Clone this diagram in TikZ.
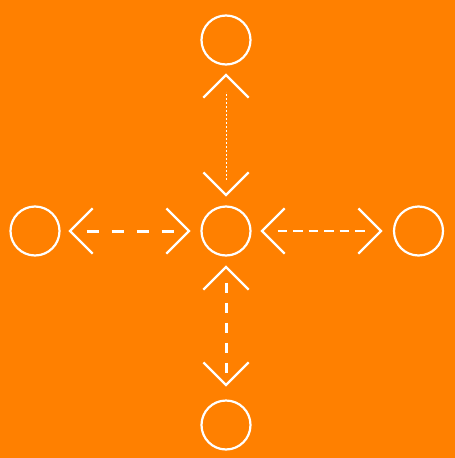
\documentclass[tikz,border=0pt]{standalone}
\usetikzlibrary{calc}
\definecolor{bg}{RGB}{255,128,0}
\tikzset{
  ring/.style={circle,draw=white,line width=2.2pt,minimum size=49pt,inner sep=0pt,outer sep=0pt},
  chev/.style={draw=white,line width=2.2pt},
  link/.style={draw=white,shorten <=27pt,shorten >=27pt},
  dotlink/.style={link,line width=1pt,dash pattern=on 2pt off 2pt},
  thicklink/.style={link,line width=3pt,dash pattern=on 12pt off 13pt},
  thinlink/.style={link,line width=2pt,dash pattern=on 9.5pt off 6pt},
  midlink/.style={link,line width=3pt,dash pattern=on 10pt off 10pt}
}
\newcommand\mychev[2]{% tip coordinate #1, arms opening towards node #2
  \draw[chev] ($(#1)!32pt!45:(#2)$) -- (#1) -- ($(#1)!32pt!-45:(#2)$);}
\begin{document}
\begin{tikzpicture}[x=1pt,y=-1pt]
\fill[bg] (0,0) rectangle (455,458);
\useasboundingbox (0,0) rectangle (455,458);
\node[ring] (c) at (226,231) {};
\node[ring] (t) at (226,40) {};
\node[ring] (l) at (35,231) {};
\node[ring] (r) at (418.5,231) {};
\node[ring] (b) at (226,425) {};
% connectors
\draw[dotlink] (c) -- (t);
\draw[thicklink] (l) -- (c);
\draw[thinlink] (c) -- (r);
\draw[midlink] (c) -- (b);
% tips
\coordinate (ct) at ($(c)!36pt!(t)$);
\coordinate (tc) at ($(t)!35pt!(c)$);
\coordinate (cl) at ($(c)!37pt!(l)$);
\coordinate (lc) at ($(l)!35pt!(c)$);
\coordinate (cr) at ($(c)!36pt!(r)$);
\coordinate (rc) at ($(r)!37.5pt!(c)$);
\coordinate (cb) at ($(c)!36pt!(b)$);
\coordinate (bc) at ($(b)!40pt!(c)$);
\mychev{ct}{t}
\mychev{tc}{c}
\mychev{cl}{l}
\mychev{lc}{c}
\mychev{cr}{r}
\mychev{rc}{c}
\mychev{cb}{b}
\mychev{bc}{c}
\end{tikzpicture}
\end{document}
